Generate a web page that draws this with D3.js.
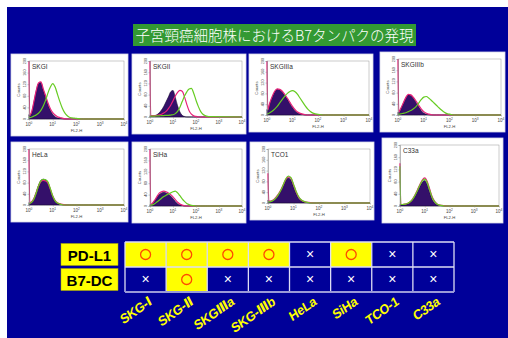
<!DOCTYPE html>
<html><head><meta charset="utf-8">
<script src="https://cdn.jsdelivr.net/npm/d3@7"></script>
<style>body{margin:0;background:#fff}svg{display:block}</style></head>
<body>
<svg id="c" width="508" height="338"></svg>
<script>
// ---------- DATA ----------
const title = "子宮頸癌細胞株におけるB7タンパクの発現";
const panelNames = ["SKGI","SKGII","SKGIIIa","SKGIIIb","HeLa","SiHa","TCO1","C33a"];
// log10 channel positions for histogram samples
const bins = [0,0.03,0.1,0.2,0.3,0.4,0.5,0.6,0.7,0.8,0.9,1.0,1.1,1.2,1.3,1.4,1.5,1.6,1.7,1.8,1.9,2.0,2.1,2.2,2.3,2.4,2.5,2.6,4.0];
const yTicks = [0,40,80,120,160,200];
const xTicks = [0,1,2,3,4];
// control (filled) histograms
const fillSKGI   = [15,10,20,55,95,122,126,100,75,50,30,16,8,4,2,1,0,0,0,0,0,0,0,0,0,0,0,0,0];
const fillSKGII  = [5,4,4,5,8,15,25,38,55,72,90,95,70,40,18,6,2,0,0,0,0,0,0,0,0,0,0,0,0];
const fillSKGIIIa= [20,15,40,65,85,95,93,85,72,58,42,28,16,8,4,2,0,0,0,0,0,0,0,0,0,0,0,0,0];
const fillSKGIIIb= [10,8,20,40,60,72,70,60,45,30,16,7,3,1,0,0,0,0,0,0,0,0,0,0,0,0,0,0,0];
const fillHeLa   = [8,6,10,22,45,70,88,92,90,80,55,30,14,6,3,1,0,0,0,0,0,0,0,0,0,0,0,0,0];
const fillSiHa   = [5,4,8,18,30,40,46,48,46,42,35,26,16,8,4,2,0,0,0,0,0,0,0,0,0,0,0,0,0];
const fillTCO1   = [10,6,6,10,18,30,45,65,85,93,85,60,35,17,8,4,2,1,0,0,0,0,0,0,0,0,0,0,0];
const fillC33a   = [5,4,4,5,7,12,20,32,48,64,78,84,70,45,22,10,4,2,1,0,0,0,0,0,0,0,0,0,0];
// pink line histograms
const pinkSKGI   = [200,12,22,57,97,124,128,104,80,55,35,22,14,8,5,3,1,0,0,0,0,0,0,0,0,0,0,0,0];
const pinkSKGII  = [200,6,5,5,6,8,10,14,20,30,42,58,75,88,95,92,72,45,22,10,4,2,0,0,0,0,0,0,0];
const pinkSKGIIIa= [200,20,42,68,88,97,95,88,76,62,47,32,20,11,6,3,1,0,0,0,0,0,0,0,0,0,0,0,0];
const pinkSKGIIIb= [200,10,22,42,62,74,72,63,50,35,22,12,6,3,1,0,0,0,0,0,0,0,0,0,0,0,0,0,0];
const pinkHeLa   = [200,8,11,22,44,68,84,88,86,78,56,32,16,8,4,2,1,0,0,0,0,0,0,0,0,0,0,0,0];
const pinkSiHa   = [200,5,9,20,33,45,50,52,50,46,40,32,22,13,7,3,1,0,0,0,0,0,0,0,0,0,0,0,0];
const pinkTCO1   = [110,8,7,11,20,32,48,68,88,97,92,68,42,22,11,6,3,2,1,0,0,0,0,0,0,0,0,0,0];
const pinkC33a   = [140,5,5,6,8,13,22,35,52,70,85,92,80,55,30,15,7,3,2,1,0,0,0,0,0,0,0,0,0];
// green line histograms
const greenSKGI   = [8,5,6,10,14,20,30,45,65,90,110,122,110,85,60,38,22,12,6,4,3,2,1,0,0,0,0,0,0];
const greenSKGII  = [4,3,3,3,4,4,5,5,6,6,7,8,12,20,35,55,75,90,100,102,85,60,38,20,10,5,2,1,0];
const greenSKGIIIa= [5,4,8,14,22,32,45,58,70,80,87,90,86,76,62,48,34,22,13,7,4,2,1,0,0,0,0,0,0];
const greenSKGIIIb= [4,3,4,6,8,12,16,22,30,42,55,64,66,60,52,43,34,25,17,10,5,3,1,0,0,0,0,0,0];
const greenHeLa   = [6,5,9,20,42,68,86,92,90,82,58,32,15,7,3,1,0,0,0,0,0,0,0,0,0,0,0,0,0];
const greenSiHa   = [4,3,4,8,14,20,27,33,38,42,46,50,52,46,36,25,16,9,5,2,1,0,0,0,0,0,0,0,0];
const greenTCO1   = [5,4,5,9,17,30,46,68,90,100,94,70,44,24,12,6,3,1,0,0,0,0,0,0,0,0,0,0,0];
const greenC33a   = [130,5,5,6,8,13,21,34,50,68,82,88,76,52,28,14,6,3,1,0,0,0,0,0,0,0,0,0,0];

const fills  = [fillSKGI,fillSKGII,fillSKGIIIa,fillSKGIIIb,fillHeLa,fillSiHa,fillTCO1,fillC33a];
const pinks  = [pinkSKGI,pinkSKGII,pinkSKGIIIa,pinkSKGIIIb,pinkHeLa,pinkSiHa,pinkTCO1,pinkC33a];
const greens = [greenSKGI,greenSKGII,greenSKGIIIa,greenSKGIIIb,greenHeLa,greenSiHa,greenTCO1,greenC33a];

// table
const cellLines = ["SKG-Ⅰ","SKG-Ⅱ","SKGⅢa","SKG-Ⅲb","HeLa","SiHa","TCO-1","C33a"];
const markers = ["PD-L1","B7-DC"];
const pdl1 = [1,1,1,1,0,1,0,0];
const b7dc = [0,1,0,0,0,0,0,0];
const expression = [pdl1, b7dc];

// ---------- LAYOUT ----------
const layout = [[11,54,117,82],[132,54,114,80],[249,54,124,78],[380,52,125,80],
                [11,142,117,80],[132,142,114,81],[250,142,124,78],[382,138,121,85]];

const svg = d3.select("#c");
svg.append("rect").attr("x",7).attr("y",7).attr("width",501).attr("height",331).attr("fill","#000099");

svg.append("rect").attr("x",133).attr("y",24).attr("width",283).attr("height",22).attr("fill","#339933");
svg.append("text").attr("x",274.5).attr("y",40.5).attr("text-anchor","middle")
  .attr("font-family","'Noto Sans CJK JP'").attr("font-weight",300).attr("font-size",14.5).attr("fill","#fff").text(title);

const grayTxt = "#444";
layout.forEach((L,i)=>{
  const [px,py,pw,ph] = L;
  const g = svg.append("g");
  g.append("rect").attr("x",px).attr("y",py).attr("width",pw).attr("height",ph)
    .attr("fill","#fff").attr("stroke","#d8d8e8").attr("stroke-width",0.8);
  const fl = px+18, fr = px+pw-4, ft = py+7, fb = py+ph-17;
  const x = d3.scaleLog().domain([1,1e4]).range([fl,fr]);
  const y = d3.scaleLinear().domain([0,200]).range([fb,ft]).clamp(true);
  const pts = arr => arr.map((v,k)=>[Math.pow(10,bins[k]), v]);
  g.append("rect").attr("x",fl).attr("y",ft).attr("width",fr-fl).attr("height",fb-ft)
    .attr("fill","none").attr("stroke","#999").attr("stroke-width",0.5);
  const area = d3.area().x(d=>x(d[0])).y0(fb).y1(d=>y(d[1])).curve(d3.curveMonotoneX);
  const line = d3.line().x(d=>x(d[0])).y(d=>y(d[1])).curve(d3.curveMonotoneX);
  g.append("path").attr("d",area(pts(fills[i]))).attr("fill","#34106a")
    .attr("stroke","#160830").attr("stroke-width",0.6);
  g.append("path").attr("d",line(pts(pinks[i]))).attr("fill","none")
    .attr("stroke","#e8207a").attr("stroke-width",1.2);
  g.append("path").attr("d",line(pts(greens[i]))).attr("fill","none")
    .attr("stroke","#66cc22").attr("stroke-width",1.2);
  const ya = g.append("g").attr("transform",`translate(${fl},0)`)
    .call(d3.axisLeft(y).tickValues(yTicks).tickSize(1.5).tickFormat(""));
  ya.select(".domain").attr("stroke","#888").attr("stroke-width",0.5);
  ya.selectAll("line").attr("stroke","#888").attr("stroke-width",0.5);
  yTicks.forEach(t=>{
    g.append("text").attr("transform",`translate(${fl-3.5},${y(t)}) rotate(-90)`)
      .attr("text-anchor","middle").attr("font-family","Arial, 'Liberation Sans'")
      .attr("font-size",3.8).attr("fill",grayTxt).text(t);
  });
  g.append("text").attr("transform",`translate(${fl-9},${(ft+fb)/2}) rotate(-90)`)
    .attr("text-anchor","middle").attr("font-family","Arial, 'Liberation Sans'")
    .attr("font-size",4.2).attr("fill",grayTxt).text("Counts");
  const xa = g.append("g").attr("transform",`translate(0,${fb})`)
    .call(d3.axisBottom(x).tickValues(xTicks.map(e=>Math.pow(10,e))).tickSize(1.5).tickFormat(""));
  xa.select(".domain").remove();
  xa.selectAll("line").attr("stroke","#888").attr("stroke-width",0.5);
  xTicks.forEach(e=>{
    const t = g.append("text").attr("x",x(Math.pow(10,e))).attr("y",fb+7)
      .attr("text-anchor","middle").attr("font-family","Arial, 'Liberation Sans'")
      .attr("font-size",4.5).attr("fill",grayTxt);
    t.append("tspan").text("10");
    t.append("tspan").attr("dy",-2).attr("font-size",3.2).text(e);
  });
  g.append("text").attr("x",(fl+fr)/2).attr("y",fb+12.5).attr("text-anchor","middle")
    .attr("font-family","Arial, 'Liberation Sans'").attr("font-size",4.2).attr("fill",grayTxt).text("FL2-H");
  g.append("text").attr("x",fl+3).attr("y",ft+8).attr("font-family","Arial, 'Liberation Sans'")
    .attr("font-size",6.5).attr("fill","#333").text(panelNames[i]);
});

// ---------- TABLE ----------
const cx = d3.scaleBand().domain(cellLines).range([125,454]);
const ry = d3.scaleBand().domain(markers).range([242,292]);
const tg = svg.append("g");
markers.forEach((m,r)=>{
  tg.append("rect").attr("x",61).attr("y",ry(m)+1.5).attr("width",57).attr("height",22)
    .attr("fill","#ffff00").attr("stroke","#aaaa00").attr("stroke-width",0.5);
  tg.append("text").attr("x",89.5).attr("y",ry(m)+18.5).attr("text-anchor","middle")
    .attr("font-family","Arial, 'Liberation Sans'").attr("font-weight","bold")
    .attr("font-size",15).attr("fill","#000").text(m);
  cellLines.forEach((c,k)=>{
    const on = expression[r][k];
    tg.append("rect").attr("x",cx(c)).attr("y",ry(m)).attr("width",cx.bandwidth()).attr("height",ry.bandwidth())
      .attr("fill", on ? "#ffff00" : "#000099");
    const mx = cx(c)+cx.bandwidth()/2, my = ry(m)+ry.bandwidth()/2;
    if(on){
      tg.append("circle").attr("cx",mx).attr("cy",my).attr("r",5)
        .attr("fill","none").attr("stroke","#ff4a00").attr("stroke-width",1.3);
    } else {
      tg.append("text").attr("x",mx).attr("y",my+4.5).attr("text-anchor","middle")
        .attr("font-family","Arial, 'Liberation Sans'").attr("font-size",14).attr("fill","#fff").text("×");
    }
  });
});
const gridC = "#dcdcf4";
cx.domain().forEach(c=>{
  tg.append("line").attr("x1",cx(c)).attr("x2",cx(c)).attr("y1",242).attr("y2",292)
    .attr("stroke",gridC).attr("stroke-width",1.3);
});
tg.append("line").attr("x1",454).attr("x2",454).attr("y1",242).attr("y2",292).attr("stroke",gridC).attr("stroke-width",1.3);
markers.forEach(m=>{
  tg.append("line").attr("x1",125).attr("x2",454).attr("y1",ry(m)).attr("y2",ry(m)).attr("stroke",gridC).attr("stroke-width",1.3);
});
tg.append("line").attr("x1",125).attr("x2",454).attr("y1",292).attr("y2",292).attr("stroke","#9a9ad8").attr("stroke-width",2);

cellLines.forEach(c=>{
  const ex = cx(c)+cx.bandwidth()/2+7;
  tg.append("text").attr("transform",`translate(${ex},304) rotate(-35) skewX(-8)`)
    .attr("text-anchor","end").attr("font-family","'Liberation Sans', 'DejaVu Sans'")
    .attr("font-weight","bold").attr("font-size",13).attr("letter-spacing",-0.3)
    .attr("fill","#ffff00").text(c);
});
</script>
</body></html>
